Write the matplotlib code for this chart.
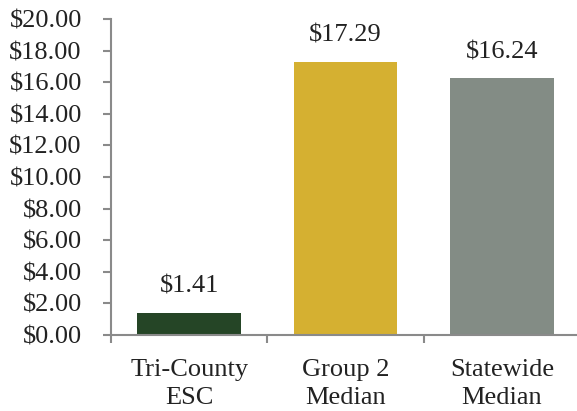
import matplotlib
matplotlib.use("Agg")
import matplotlib.pyplot as plt
from matplotlib.ticker import FuncFormatter, FixedLocator

categories = ["Tri-County\nESC", "Group 2\nMedian", "Statewide\nMedian"]
values = [1.41, 17.29, 16.24]
colors = ["#254526", "#D5B031", "#838C85"]
yticks = [0, 2, 4, 6, 8, 10, 12, 14, 16, 18, 20]

plt.rcParams['font.family'] = ['Liberation Serif', 'DejaVu Serif']
FS = 19

fig = plt.figure(figsize=(5.77, 4.11), dpi=100)
ax = fig.add_axes([111/577, 1 - 335/411, (580 - 111)/577, (335 - 19)/411])

x = list(range(len(categories)))
bars = ax.bar(x, values, width=0.665, color=colors)
for xi, v in zip(x, values):
    ax.annotate(f"${v:.2f}", (xi, v), xytext=(0, 14.4), textcoords="offset points",
                ha="center", va="baseline", fontsize=FS, color="#222222")

ax.set_xlim(-0.5, len(categories) - 0.5)
ax.set_ylim(0, 20)
ax.yaxis.set_major_locator(FixedLocator(yticks))
ax.yaxis.set_major_formatter(FuncFormatter(lambda v, p: f"${v:.2f}"))
ax.set_xticks(x)
ax.set_xticklabels(categories, linespacing=1.4)
ax.xaxis.set_minor_locator(FixedLocator([-0.5, 0.5, 1.5, 2.5]))
ax.tick_params(axis='x', which='major', length=0, pad=17, labelsize=FS, labelcolor="#222222")
ax.tick_params(axis='x', which='minor', length=6, width=1.5, color="#8a8a8a", direction='out')
ax.tick_params(axis='y', length=6, width=1.5, color="#8a8a8a", labelsize=FS, labelcolor="#222222", pad=15)
for s in ["top", "right"]:
    ax.spines[s].set_visible(False)
for s in ["left", "bottom"]:
    ax.spines[s].set_color("#8a8a8a")
    ax.spines[s].set_linewidth(1.5)

fig.savefig("out.png", dpi=100)
